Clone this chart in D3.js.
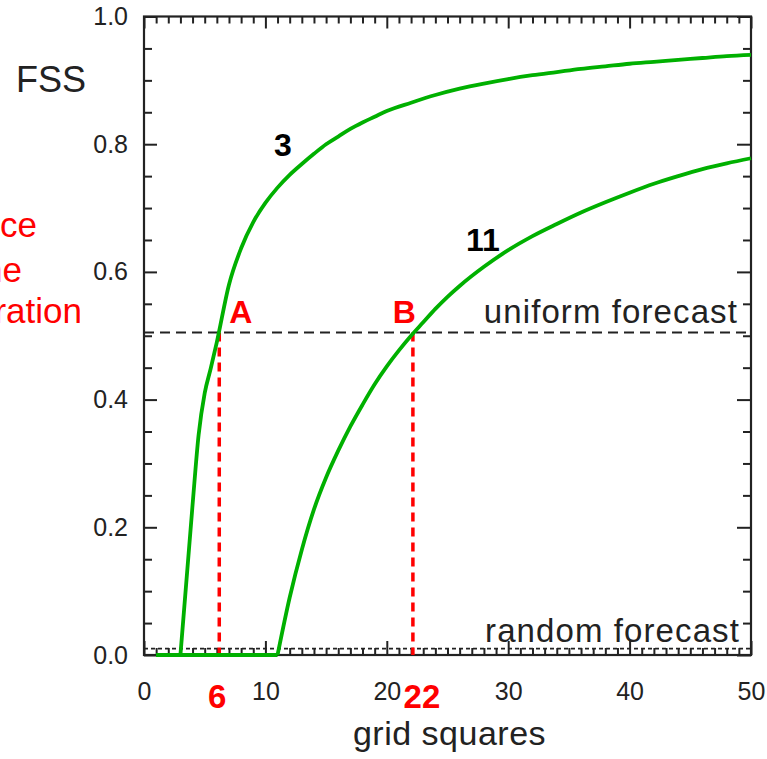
<!DOCTYPE html>
<html>
<head>
<meta charset="utf-8">
<script src="https://cdn.jsdelivr.net/npm/d3@7"></script>
<style>
  html, body { margin: 0; padding: 0; background: #fff; }
  svg { display: block; font-family: "Liberation Sans", Arial, Helvetica, sans-serif; }
</style>
</head>
<body>
<div id="viz"></div>
<script>
// FSS against neighbourhood size (grid squares), for displacements of 3 and 11.
const sizes3 = [1, 2, 3, 4, 4.5, 5, 5.5, 6, 7, 8, 9, 10, 11, 12, 13, 14, 15, 16, 17, 18, 19, 20,
  22, 24, 26, 28, 30, 32, 34, 36, 38, 40, 42, 44, 46, 48, 50];
const fss3 = [0, 0, 0, 0.235, 0.345, 0.41, 0.449, 0.49, 0.58, 0.637, 0.678, 0.708, 0.732, 0.752, 0.769,
  0.785, 0.80, 0.812, 0.824, 0.834, 0.843, 0.852, 0.865, 0.877, 0.887, 0.895, 0.902, 0.908, 0.913,
  0.918, 0.922, 0.926, 0.929, 0.932, 0.935, 0.938, 0.940];

const sizes11 = [1, 11, 12, 13, 14, 15, 16, 17, 18, 19, 20, 21, 22, 23, 24, 25, 26, 28, 30, 32, 34,
  36, 38, 40, 42, 44, 46, 48, 50];
const fss11 = [0, 0, 0.09, 0.165, 0.228, 0.278, 0.32, 0.358, 0.392, 0.424, 0.452, 0.477, 0.50, 0.521,
  0.542, 0.561, 0.578, 0.608, 0.634, 0.656, 0.675, 0.693, 0.709, 0.724, 0.738, 0.750, 0.761, 0.770, 0.778];

const uniformFss = 0.505;
const randomFss = 0.01;
const crossLabels = ["A", "B"];
const crossSizes = [6.2, 22.15];
const crossTickLabels = ["6", "22"];
const curveNames = ["3", "11"];

const W = 767, H = 759;
const INK = "#222";
const GREEN = "#00b000";
const RED = "#ff0000";

const svg = d3.select("#viz").append("svg").attr("width", W).attr("height", H);

const x = d3.scaleLinear().domain([0, 50]).range([144, 751]);
const y = d3.scaleLinear().domain([0, 1]).range([655, 16.5]);

const yMajor = d3.range(0, 1.0001, 0.2);
const yMinor = d3.range(0, 1.0001, 0.05).filter(v => Math.abs(v * 5 - Math.round(v * 5)) > 1e-6);
const xMajor = d3.range(0, 51, 10);
const xMinor = d3.range(0, 51, 1).filter(v => v % 10 !== 0);

function styleAxis(g) {
  g.select(".domain").remove();
  g.selectAll(".tick line").attr("stroke", INK).attr("stroke-width", 2);
  g.selectAll(".tick text").attr("fill", INK).attr("font-size", 25)
    .attr("font-family", "'Liberation Sans', Arial, sans-serif");
}

// left
svg.append("g").attr("transform", `translate(${x(0)},0)`)
  .call(d3.axisLeft(y).tickValues(yMajor).tickSize(-13).tickPadding(16).tickFormat(d3.format(".1f")))
  .call(styleAxis);
svg.append("g").attr("transform", `translate(${x(0)},0)`)
  .call(d3.axisLeft(y).tickValues(yMinor).tickSize(-8).tickFormat(""))
  .call(styleAxis);
// right
svg.append("g").attr("transform", `translate(${x(50)},0)`)
  .call(d3.axisRight(y).tickValues(yMajor).tickSize(-14).tickFormat(""))
  .call(styleAxis);
svg.append("g").attr("transform", `translate(${x(50)},0)`)
  .call(d3.axisRight(y).tickValues(yMinor).tickSize(-8).tickFormat(""))
  .call(styleAxis);
// top
svg.append("g").attr("transform", `translate(0,${y(1)})`)
  .call(d3.axisTop(x).tickValues(xMajor).tickSize(-12).tickFormat(""))
  .call(styleAxis);
svg.append("g").attr("transform", `translate(0,${y(1)})`)
  .call(d3.axisTop(x).tickValues(xMinor).tickSize(-7).tickFormat(""))
  .call(styleAxis);
// bottom
svg.append("g").attr("transform", `translate(0,${y(0)})`)
  .call(d3.axisBottom(x).tickValues(xMajor).tickSize(-14).tickPadding(27).tickFormat(d3.format("d")))
  .call(styleAxis);
svg.append("g").attr("transform", `translate(0,${y(0)})`)
  .call(d3.axisBottom(x).tickValues(xMinor).tickSize(-7).tickFormat(""))
  .call(styleAxis);

// frame
svg.append("rect")
  .attr("x", x(0)).attr("y", y(1))
  .attr("width", x(50) - x(0)).attr("height", y(0) - y(1))
  .attr("fill", "none").attr("stroke", INK).attr("stroke-width", 2.2);

// reference lines
svg.append("line")
  .attr("x1", x(0)).attr("x2", x(50)).attr("y1", y(uniformFss)).attr("y2", y(uniformFss))
  .attr("stroke", INK).attr("stroke-width", 2).attr("stroke-dasharray", "10,6");
svg.append("line")
  .attr("x1", x(0)).attr("x2", x(50)).attr("y1", y(randomFss)).attr("y2", y(randomFss))
  .attr("stroke", INK).attr("stroke-width", 1.6).attr("stroke-dasharray", "4,3");

svg.append("text").attr("x", 738).attr("y", y(uniformFss) - 10)
  .attr("text-anchor", "end").attr("font-size", 33).attr("letter-spacing", 1.1)
  .attr("fill", INK).text("uniform forecast");
svg.append("text").attr("x", 740).attr("y", y(randomFss) - 7)
  .attr("text-anchor", "end").attr("font-size", 33).attr("letter-spacing", 1.1)
  .attr("fill", INK).text("random forecast");

// red drop lines
crossSizes.forEach(s => {
  svg.append("line")
    .attr("x1", x(s)).attr("x2", x(s)).attr("y1", y(uniformFss)).attr("y2", y(0))
    .attr("stroke", RED).attr("stroke-width", 3.5).attr("stroke-dasharray", "9,6");
});

// curves: flat zero run drawn straight, rising part smoothed
const flat = d3.line().x(d => x(d[0])).y(d => y(d[1]));
const smooth = d3.line().curve(d3.curveMonotoneX).x(d => x(d[0])).y(d => y(d[1]));
[[sizes3, fss3], [sizes11, fss11]].forEach(([xs, vs]) => {
  const pts = xs.map((v, i) => [v, vs[i]]);
  const lastZero = d3.max(pts.map((p, i) => (p[1] === 0 ? i : -1)));
  const g = svg.append("g").attr("fill", "none").attr("stroke", GREEN)
    .attr("stroke-width", 3.8).attr("stroke-linejoin", "round");
  g.append("path").attr("d", flat(pts.slice(0, lastZero + 1)));
  g.append("path").attr("d", smooth(pts.slice(lastZero)));
});

// curve names
svg.append("text").attr("x", 274).attr("y", 156).attr("font-size", 32).attr("font-weight", "bold")
  .attr("fill", "#000").text(curveNames[0]);
svg.append("text").attr("x", 466).attr("y", 251).attr("font-size", 32).attr("font-weight", "bold")
  .attr("fill", "#000").text(curveNames[1]);

// A / B
svg.append("text").attr("x", x(crossSizes[0]) + 10).attr("y", 323)
  .attr("font-size", 32).attr("font-weight", "bold").attr("fill", RED).text(crossLabels[0]);
svg.append("text").attr("x", x(crossSizes[1]) + 3).attr("y", 323).attr("text-anchor", "end")
  .attr("font-size", 32).attr("font-weight", "bold").attr("fill", RED).text(crossLabels[1]);

// 6 / 22 under the axis
svg.append("text").attr("x", x(crossSizes[0]) - 2).attr("y", 708).attr("text-anchor", "middle")
  .attr("font-size", 33).attr("font-weight", "bold").attr("fill", RED).text(crossTickLabels[0]);
svg.append("text").attr("x", x(crossSizes[1]) + 9).attr("y", 708).attr("text-anchor", "middle")
  .attr("font-size", 33).attr("font-weight", "bold").attr("fill", RED).text(crossTickLabels[1]);

// titles
svg.append("text").attr("x", 16).attr("y", 92).attr("font-size", 36).attr("fill", INK).text("FSS");
svg.append("text").attr("x", (x(0) + x(50)) / 2 + 2).attr("y", 745).attr("text-anchor", "middle")
  .attr("font-size", 34).attr("letter-spacing", 0.5).attr("fill", INK).text("grid squares");

// red note on the left, cut off by the page edge as in the original figure
const noteLines = ["distance", "at the", "separation"];
const noteEnds = [37, 22, 82];
const noteBase = [237, 282, 323];
noteLines.forEach((t, i) => {
  svg.append("text").attr("x", noteEnds[i]).attr("y", noteBase[i]).attr("text-anchor", "end")
    .attr("font-size", 35).attr("fill", RED).text(t);
});
</script>
</body>
</html>
